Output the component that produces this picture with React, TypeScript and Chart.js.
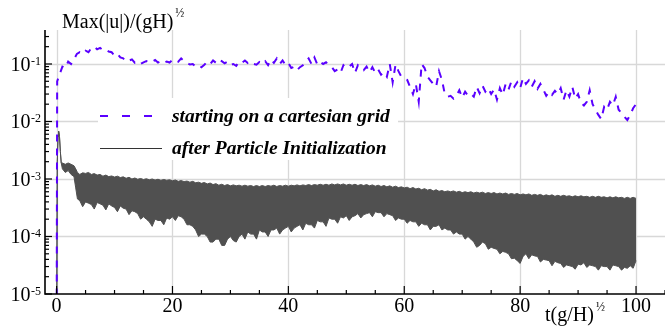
import React, { useEffect, useRef } from "react";
import { Chart, registerables } from "chart.js";

Chart.register(...registerables);

// ---- data ----
// "starting on a cartesian grid": t = 0, 0.1, then every 0.5 from 0.5 to 100
const purpleStart = [1e-6, 0.05];
const purpleStartTimes = [0, 0.1];
const purpleStep = 0.5;
const purpleValues = [
  0.065, 0.09, 0.085, 0.11, 0.1, 0.12, 0.15, 0.16, 0.15, 0.17,
  0.16, 0.19, 0.2, 0.18, 0.19, 0.175, 0.18, 0.165, 0.16, 0.14,
  0.15, 0.13, 0.125, 0.11, 0.115, 0.12, 0.105, 0.11, 0.1, 0.107,
  0.112, 0.105, 0.11, 0.117, 0.106, 0.112, 0.104, 0.11, 0.106, 0.117,
  0.12, 0.11, 0.125, 0.113, 0.105, 0.098, 0.1, 0.09, 0.095, 0.088,
  0.097, 0.11, 0.1, 0.115, 0.105, 0.12, 0.112, 0.103, 0.11, 0.096,
  0.1, 0.093, 0.11, 0.105, 0.115, 0.104, 0.11, 0.1, 0.097, 0.108,
  0.1, 0.112, 0.096, 0.12, 0.105, 0.125, 0.1, 0.115, 0.096, 0.105,
  0.085, 0.09, 0.078, 0.088, 0.095, 0.11, 0.125, 0.1, 0.13, 0.098,
  0.11, 0.1, 0.107, 0.095, 0.088, 0.075, 0.08, 0.07, 0.095, 0.085,
  0.09, 0.1, 0.07, 0.095, 0.085, 0.078, 0.09, 0.072, 0.088, 0.07,
  0.08, 0.065, 0.072, 0.06, 0.1, 0.048, 0.098, 0.075, 0.06, 0.056,
  0.053, 0.04, 0.03, 0.045, 0.022, 0.1, 0.085, 0.06, 0.052, 0.045,
  0.04, 0.075, 0.053, 0.03, 0.027, 0.028, 0.025, 0.028, 0.035, 0.026,
  0.033, 0.028, 0.03, 0.027, 0.04, 0.031, 0.042, 0.033, 0.038, 0.03,
  0.036, 0.024, 0.038, 0.029, 0.045, 0.036, 0.05, 0.04, 0.048, 0.038,
  0.057, 0.045, 0.052, 0.04, 0.05, 0.037, 0.045, 0.036, 0.028, 0.033,
  0.029, 0.034, 0.03, 0.038, 0.024, 0.035, 0.027, 0.04, 0.025, 0.03,
  0.021, 0.019, 0.022, 0.035, 0.02, 0.016, 0.013, 0.011, 0.018, 0.016,
  0.022, 0.019, 0.027, 0.016, 0.014, 0.012, 0.0106, 0.013, 0.017, 0.02,
];

// "after Particle Initialization": envelope (max / min) of the dense oscillation
const blackTimesStart = [0, 0.12, 0.25, 0.35, 0.5, 0.65, 0.8, 1, 1.5, 2, 2.5, 3, 3.3, 3.6];
const blackTimesFrom = 4;
const blackStep = 0.5;
const blackUpper = [
  1e-6, 0.002, 0.0055, 0.0068, 0.0055, 0.003, 0.0019, 0.0019, 0.0018, 0.0019, 0.0018, 0.0017, 0.0015, 0.0013,
  // t = 4 .. 100 every 0.5
  0.0012, 0.00128, 0.00125, 0.0013, 0.0012, 0.00124, 0.00117, 0.0012, 0.00112, 0.00117,
  0.0011, 0.00113, 0.00108, 0.00112, 0.00106, 0.00109, 0.00103, 0.00107, 0.001, 0.00104,
  0.00099, 0.00102, 0.00098, 0.00101, 0.00097, 0.001, 0.00096, 0.00099, 0.00095, 0.00098,
  0.00095, 0.00097, 0.00093, 0.00096, 0.00091, 0.00094, 0.0009, 0.00092, 0.00088, 0.00091,
  0.00086, 0.00088, 0.00084, 0.00087, 0.00082, 0.00085, 0.0008, 0.00083, 0.00078, 0.00081,
  0.00077, 0.0008, 0.00076, 0.00079, 0.00076, 0.00078, 0.00075, 0.00078, 0.00075, 0.00077,
  0.00074, 0.00077, 0.00074, 0.00077, 0.00074, 0.00077, 0.00075, 0.00078, 0.00074, 0.00077,
  0.00075, 0.00078, 0.00075, 0.00078, 0.00076, 0.00079, 0.00076, 0.00079, 0.00077, 0.0008,
  0.00077, 0.0008, 0.00078, 0.00081, 0.00078, 0.00081, 0.00078, 0.00082, 0.00079, 0.00082,
  0.00079, 0.00082, 0.00078, 0.00081, 0.00078, 0.00081, 0.00077, 0.0008, 0.00077, 0.0008,
  0.00076, 0.00079, 0.00075, 0.00078, 0.00074, 0.00077, 0.00073, 0.00076, 0.00072, 0.00075,
  0.00071, 0.00073, 0.0007, 0.00072, 0.00068, 0.00071, 0.00067, 0.00069, 0.00065, 0.00068,
  0.00064, 0.00066, 0.00062, 0.00065, 0.00061, 0.00063, 0.0006, 0.00062, 0.0006, 0.00062,
  0.00059, 0.00061, 0.00058, 0.0006, 0.00058, 0.0006, 0.00057, 0.00059, 0.00057, 0.00059,
  0.00056, 0.00058, 0.00056, 0.00058, 0.00055, 0.00057, 0.00055, 0.00057, 0.00054, 0.00056,
  0.00054, 0.00056, 0.00053, 0.00055, 0.00053, 0.00055, 0.00052, 0.00054, 0.00052, 0.00054,
  0.00051, 0.00053, 0.00051, 0.00053, 0.0005, 0.00052, 0.0005, 0.00052, 0.0005, 0.00051,
  0.00049, 0.00051, 0.00049, 0.00051, 0.00049, 0.0005, 0.00048, 0.0005, 0.00048, 0.0005,
  0.00048, 0.00049, 0.00047, 0.00049, 0.00047, 0.00049, 0.00047, 0.00048, 0.00046, 0.00048,
  0.00046, 0.00048, 0.00046,
];
const blackLower = [
  1e-6, 0.002, 0.0055, 0.0068, 0.0055, 0.003, 0.0019, 0.0015, 0.0013, 0.0014, 0.0012, 0.0011, 0.0007, 0.00045,
  // t = 4 .. 100 every 0.5
  0.00042, 0.00033, 0.0004, 0.00038, 0.00036, 0.0003, 0.00039, 0.00037, 0.00035, 0.00029,
  0.00037, 0.00034, 0.00032, 0.00027, 0.00034, 0.00031, 0.0003, 0.00024, 0.00028, 0.00027,
  0.00025, 0.0002, 0.00022, 0.0002, 0.00018, 0.00015, 0.0002, 0.00019, 0.00019, 0.00016,
  0.00021, 0.0002, 0.00022, 0.00019, 0.00023, 0.00022, 0.0002, 0.00016, 0.00016, 0.00015,
  0.00013, 0.0001, 0.00011, 0.00011, 0.0001, 0.00008, 0.00008, 0.00009, 0.00009, 0.00007,
  0.00007, 0.00009, 0.0001, 0.000085, 0.00008, 0.0001, 0.00011, 0.00009, 0.00012, 0.00011,
  0.00011, 0.00009, 0.00013, 0.00012, 0.00012, 0.0001, 0.00013, 0.00013, 0.00014, 0.00011,
  0.00013, 0.00014, 0.00015, 0.00012, 0.00014, 0.00015, 0.00016, 0.00013, 0.00017, 0.00016,
  0.00016, 0.00014, 0.00019, 0.00018, 0.00018, 0.00015, 0.00021, 0.0002, 0.0002, 0.00017,
  0.00022, 0.00021, 0.00023, 0.00019, 0.00022, 0.00023, 0.00025, 0.00021, 0.00024, 0.00025,
  0.00026, 0.00022, 0.00027, 0.00026, 0.00026, 0.00022, 0.00025, 0.00024, 0.00023, 0.00019,
  0.00021, 0.0002, 0.0002, 0.00017, 0.00019, 0.00018, 0.00018, 0.00015, 0.00017, 0.00016,
  0.00016, 0.00013, 0.00015, 0.00015, 0.00016, 0.00013, 0.00014, 0.00013, 0.00013, 0.00011,
  0.00012, 0.00011, 0.00011, 0.00009, 0.0001, 0.00009, 0.00008, 0.000065, 0.00007, 0.00008,
  0.000075, 0.00006, 0.000065, 0.000062, 0.00006, 0.00005, 0.000055, 0.000053, 0.00005, 0.000041,
  0.000042, 0.000038, 0.000034, 0.000045, 0.00005, 0.000041, 0.000048, 0.000046, 0.000045, 0.000036,
  0.00004, 0.000039, 0.000038, 0.000031, 0.000037, 0.000035, 0.000034, 0.000029, 0.000032, 0.000031,
  0.00003, 0.000027, 0.000033, 0.000032, 0.000035, 0.000029, 0.000032, 0.000031, 0.00003, 0.000026,
  0.000031, 0.00003, 0.00003, 0.000026, 0.000032, 0.000031, 0.00003, 0.000026, 0.000029, 0.000028,
  0.000031, 0.000028, 0.000038,
];

const xMajorTicks = [0, 20, 40, 60, 80, 100];
const xMinorStep = 5;
const yDecades = [-5, -4, -3, -2, -1];
const yTitle = "Max(|u|)/(gH)";
const xTitle = "t(g/H)";
const halfSup = "\u00BD";
const legendLabels = ["starting on a cartesian grid", "after Particle Initialization"];

const PURPLE = "#5a00ff";
const DARK = "#505050";
const SERIF = '"Liberation Serif", "Times New Roman", serif';

const purpleTimes = [
  ...purpleStartTimes,
  ...purpleValues.map((_, i) => (i + 1) * purpleStep),
];
const purpleAll = [...purpleStart, ...purpleValues];
const blackTimes = [
  ...blackTimesStart,
  ...blackUpper.slice(blackTimesStart.length).map((_, i) => blackTimesFrom + i * blackStep),
];

const customAxes = {
  id: "customAxes",
  beforeDatasetsDraw(chart: any) {
    const { ctx, chartArea: a, scales } = chart;
    const x = scales.x;
    const y = scales.y;
    ctx.save();
    ctx.strokeStyle = "#d8d8d8";
    ctx.lineWidth = 1.3;
    for (const t of xMajorTicks) {
      const px = Math.round(x.getPixelForValue(t)) + 0.5;
      ctx.beginPath();
      ctx.moveTo(px, a.top);
      ctx.lineTo(px, a.bottom);
      ctx.stroke();
    }
    for (const d of yDecades) {
      if (d === -5) continue;
      const py = Math.round(y.getPixelForValue(Math.pow(10, d))) + 0.5;
      ctx.beginPath();
      ctx.moveTo(a.left, py);
      ctx.lineTo(a.right, py);
      ctx.stroke();
    }
    // legend background
    ctx.fillStyle = "#ffffff";
    ctx.fillRect(a.left + 53, a.top + 68, 300, 62);
    ctx.restore();
  },
  afterDatasetsDraw(chart: any) {
    const { ctx, chartArea: a, scales } = chart;
    const x = scales.x;
    const y = scales.y;
    ctx.save();
    // axis lines
    ctx.strokeStyle = "#000";
    ctx.lineWidth = 1.6;
    ctx.beginPath();
    ctx.moveTo(a.left, a.top);
    ctx.lineTo(a.left, a.bottom);
    ctx.lineTo(a.right, a.bottom);
    ctx.stroke();

    // y ticks (inward)
    ctx.lineWidth = 1.2;
    const yMax = y.max;
    for (const d of yDecades) {
      for (let k = 1; k <= 9; k++) {
        const v = k * Math.pow(10, d);
        if (v > yMax) continue;
        const py = y.getPixelForValue(v);
        const len = k === 1 ? 7 : 4;
        ctx.beginPath();
        ctx.moveTo(a.left, py);
        ctx.lineTo(a.left + len, py);
        ctx.stroke();
      }
    }
    // x ticks (inward)
    for (let t = 0; t <= x.max; t += xMinorStep) {
      const px = x.getPixelForValue(t);
      const len = xMajorTicks.includes(t) ? 8 : 4;
      ctx.beginPath();
      ctx.moveTo(px, a.bottom);
      ctx.lineTo(px, a.bottom - len);
      ctx.stroke();
    }

    // y tick labels 10^d
    ctx.fillStyle = "#000";
    ctx.textAlign = "left";
    ctx.textBaseline = "alphabetic";
    const right = a.left - 4;
    for (const d of yDecades) {
      const py = y.getPixelForValue(Math.pow(10, d));
      const sup = String(d);
      ctx.font = `12px ${SERIF}`;
      const sw = ctx.measureText(sup).width;
      ctx.fillText(sup, right - sw, py + 1);
      ctx.font = `20px ${SERIF}`;
      const mw = ctx.measureText("10").width;
      ctx.fillText("10", right - sw - mw - 0.5, py + 7);
    }
    // x tick labels
    ctx.textAlign = "center";
    ctx.font = `20px ${SERIF}`;
    for (const t of xMajorTicks) {
      ctx.fillText(String(t), x.getPixelForValue(t), a.bottom + 18);
    }

    // axis titles
    ctx.textAlign = "left";
    ctx.font = `20px ${SERIF}`;
    const ytx = a.left + 17;
    ctx.fillText(yTitle, ytx, 28);
    const yw = ctx.measureText(yTitle).width;
    ctx.font = `12px ${SERIF}`;
    ctx.fillText(halfSup, ytx + yw + 2, 17);

    ctx.font = `20px ${SERIF}`;
    const xtx = 545;
    ctx.fillText(xTitle, xtx, a.bottom + 27);
    const xw = ctx.measureText(xTitle).width;
    ctx.font = `12px ${SERIF}`;
    ctx.fillText(halfSup, xtx + xw + 2, a.bottom + 17);

    // legend
    const lx = a.left + 55;
    const l1 = a.top + 86;
    const l2 = a.top + 118;
    ctx.strokeStyle = PURPLE;
    ctx.lineWidth = 2;
    ctx.setLineDash([8, 14]);
    ctx.beginPath();
    ctx.moveTo(lx, l1);
    ctx.lineTo(lx + 52, l1);
    ctx.stroke();
    ctx.setLineDash([]);
    ctx.strokeStyle = "#333";
    ctx.lineWidth = 1;
    ctx.beginPath();
    ctx.moveTo(lx, l2 + 0.5);
    ctx.lineTo(lx + 62, l2 + 0.5);
    ctx.stroke();
    ctx.fillStyle = "#000";
    ctx.font = `italic bold 19.5px ${SERIF}`;
    ctx.fillText(legendLabels[0], lx + 72, l1 + 5.5);
    ctx.fillText(legendLabels[1], lx + 72, l2 + 6);
    ctx.restore();
  },
};

export default function App() {
  const ref = useRef<HTMLCanvasElement | null>(null);
  useEffect(() => {
    if (!ref.current) return;
    const chart = new Chart(ref.current, {
      type: "line",
      data: {
        datasets: [
          {
            label: legendLabels[0],
            data: purpleTimes.map((t, i) => ({ x: t, y: purpleAll[i] })),
            borderColor: PURPLE,
            borderWidth: 2,
            borderDash: [7, 7],
            pointRadius: 0,
            fill: false,
            tension: 0,
          },
          {
            label: legendLabels[1],
            data: blackTimes.map((t, i) => ({ x: t, y: blackUpper[i] })),
            borderColor: DARK,
            borderWidth: 1,
            pointRadius: 0,
            fill: false,
            tension: 0,
          },
          {
            label: legendLabels[1] + " (min)",
            data: blackTimes.map((t, i) => ({ x: t, y: blackLower[i] })),
            borderColor: DARK,
            backgroundColor: DARK,
            borderWidth: 1,
            pointRadius: 0,
            fill: "-1",
            tension: 0,
          },
        ],
      },
      options: {
        animation: false,
        responsive: false,
        events: [],
        layout: { padding: { left: 45, right: 0, top: 30, bottom: 32 } },
        plugins: {
          legend: { display: false },
          tooltip: { enabled: false },
        },
        scales: {
          x: { type: "linear", min: -2, max: 105, display: false },
          y: { type: "logarithmic", min: 1e-5, max: 0.39, display: false },
        },
      },
      plugins: [customAxes],
    });
    return () => chart.destroy();
  }, []);
  return (
    <div style={{ position: "fixed", left: 0, top: 0, width: 665, height: 326, background: "#fff" }}>
      <canvas ref={ref} width={665} height={326} />
    </div>
  );
}
